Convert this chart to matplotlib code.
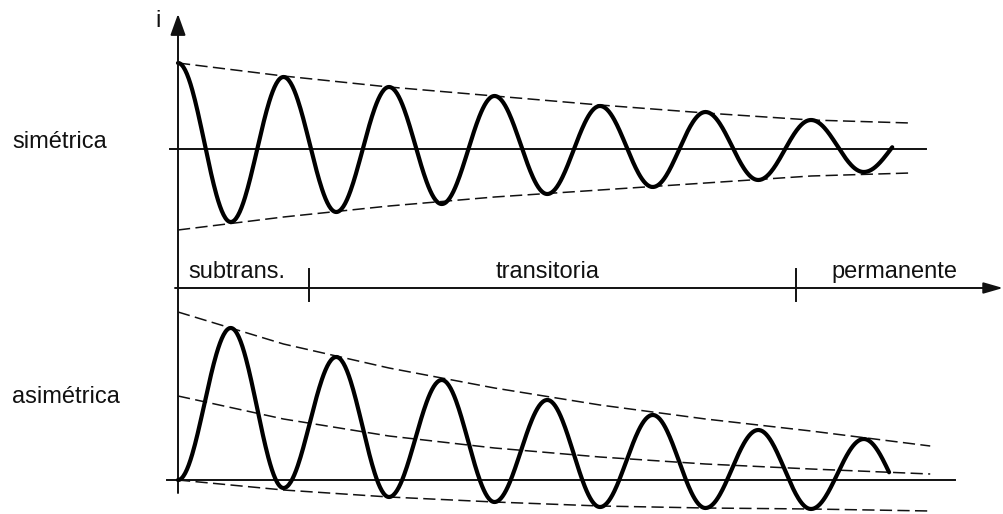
import numpy as np
import matplotlib
matplotlib.use("Agg")
import matplotlib.pyplot as plt

# ---------------- data (time in cycles, current in arbitrary units) ----------------
# symmetric current: successive extremes every half cycle
sym_ext_t = [0, 0.5, 1, 1.5, 2, 2.5, 3, 3.5, 4, 4.5, 5, 5.5, 6, 6.5, 7]
sym_ext_i = [86, -73, 72, -63, 62, -55, 53, -45, 43, -38, 37, -31, 29, -23, 21]
sym_end_t = 6.77

sym_env_t = [0, 1, 2, 3, 4, 5, 6, 6.94]
sym_env_upper = [86, 73, 62, 53, 44, 36, 29, 26]
sym_env_lower = [-81, -68, -57, -48, -41, -34, -27, -24]

# asymmetric current
asym_ext_t = [0, 0.5, 1, 1.5, 2, 2.5, 3, 3.5, 4, 4.5, 5, 5.5, 6, 6.5, 7]
asym_ext_i = [0, 152, -8, 123, -17, 100, -22, 80, -27, 65, -28, 50, -29, 41, -30]
asym_end_t = 6.74

asym_env_t = [0, 1, 2, 3, 4, 5, 6, 7.13]
asym_env_upper = [168, 136, 112, 92, 75, 61, 49, 34]
asym_env_dc = [84, 61, 44, 32, 23, 16, 11, 6]
asym_env_lower = [0, -10, -17, -22, -26, -28, -29, -31]

# time-axis zones
zone_labels = ["subtrans.", "transitoria", "permanente"]
zone_bounds_t = [1.24, 5.86]        # tick marks separating the zones

panel_labels = ["simétrica", "asimétrica"]

# ---------------- layout ----------------
W, H = 1004, 514
X0 = 178            # px position of t = 0
PXC = 105.5         # px per cycle
FONT = ["Liberation Sans", "DejaVu Sans"]
INK = "#111111"

fig = plt.figure(figsize=(W / 100, H / 100), dpi=100)


def make_axes(zero_px):
    ax = fig.add_axes([0, 0, 1, 1])
    ax.set_xlim(-X0 / PXC, (W - X0) / PXC)
    ax.set_ylim(-(H - zero_px), zero_px)
    ax.axis("off")
    ax.patch.set_alpha(0)
    return ax


ax_top = make_axes(149)
ax_bot = make_axes(480)


def tx(px):
    return (px - X0) / PXC


def wave(ext_t, ext_i, t_end):
    ts, vs = [], []
    for k in range(len(ext_t) - 1):
        t0, t1 = ext_t[k], ext_t[k + 1]
        if t0 >= t_end:
            break
        a, b = ext_i[k], ext_i[k + 1]
        t = np.linspace(t0, min(t1, t_end), 60)
        s = (t - t0) / (t1 - t0)
        ts.append(t)
        vs.append((a + b) / 2 + (a - b) / 2 * np.cos(np.pi * s))
    return np.concatenate(ts), np.concatenate(vs)


dash = (0, (8, 3.5))
env_kw = dict(color=INK, lw=1.1, linestyle=dash)
curve_kw = dict(color="black", lw=3.0, solid_capstyle="round", solid_joinstyle="round")
axis_kw = dict(color=INK, lw=1.4)

# ---- symmetric panel ----
ax_top.plot([tx(170), tx(926)], [0, 0], **axis_kw)
ax_top.plot(sym_env_t, sym_env_upper, **env_kw)
ax_top.plot(sym_env_t, sym_env_lower, **env_kw)
t, v = wave(sym_ext_t, sym_ext_i, sym_end_t)
ax_top.plot(t, v, **curve_kw)

# ---- asymmetric panel ----
ax_bot.plot([tx(167), tx(955)], [0, 0], **axis_kw)
ax_bot.plot(asym_env_t, asym_env_upper, **env_kw)
ax_bot.plot(asym_env_t, asym_env_dc, **env_kw)
ax_bot.plot(asym_env_t, asym_env_lower, **env_kw)
t, v = wave(asym_ext_t, asym_ext_i, asym_end_t)
ax_bot.plot(t, v, **curve_kw)

# ---- current axis (vertical) with arrow ----
ax_top.annotate("", xy=(0, 149 - 14), xytext=(0, 149 - 493),
                arrowprops=dict(arrowstyle="-|>,head_length=1.0,head_width=0.36",
                                mutation_scale=13, color=INK, lw=1.4,
                                shrinkA=0, shrinkB=0))
fig.text(158 / W, 1 - 27 / H, "i", fontsize=17, family=FONT, color=INK,
         ha="center", va="baseline")

# ---- time axis with zones ----
y_time = 149 - 288
ax_top.annotate("", xy=(tx(1003), y_time), xytext=(tx(175), y_time),
                arrowprops=dict(arrowstyle="-|>,head_length=0.9,head_width=0.26",
                                mutation_scale=13, color=INK, lw=1.4,
                                shrinkA=0, shrinkB=0))
for tb in zone_bounds_t:
    ax_top.plot([tb, tb], [149 - 269, 149 - 301], **axis_kw)

zone_x_px = [188, 548, 894]
zone_ha = ["left", "center", "center"]
for lab, xp, ha in zip(zone_labels, zone_x_px, zone_ha):
    fig.text(xp / W, 1 - 278 / H, lab, fontsize=17, family=FONT, color=INK,
             ha=ha, va="baseline")

# ---- panel labels ----
for lab, yb in zip(panel_labels, [148, 403]):
    fig.text(12 / W, 1 - yb / H, lab, fontsize=17, family=FONT, color=INK,
             ha="left", va="baseline")

fig.savefig("out.png", dpi=100, facecolor="white")
